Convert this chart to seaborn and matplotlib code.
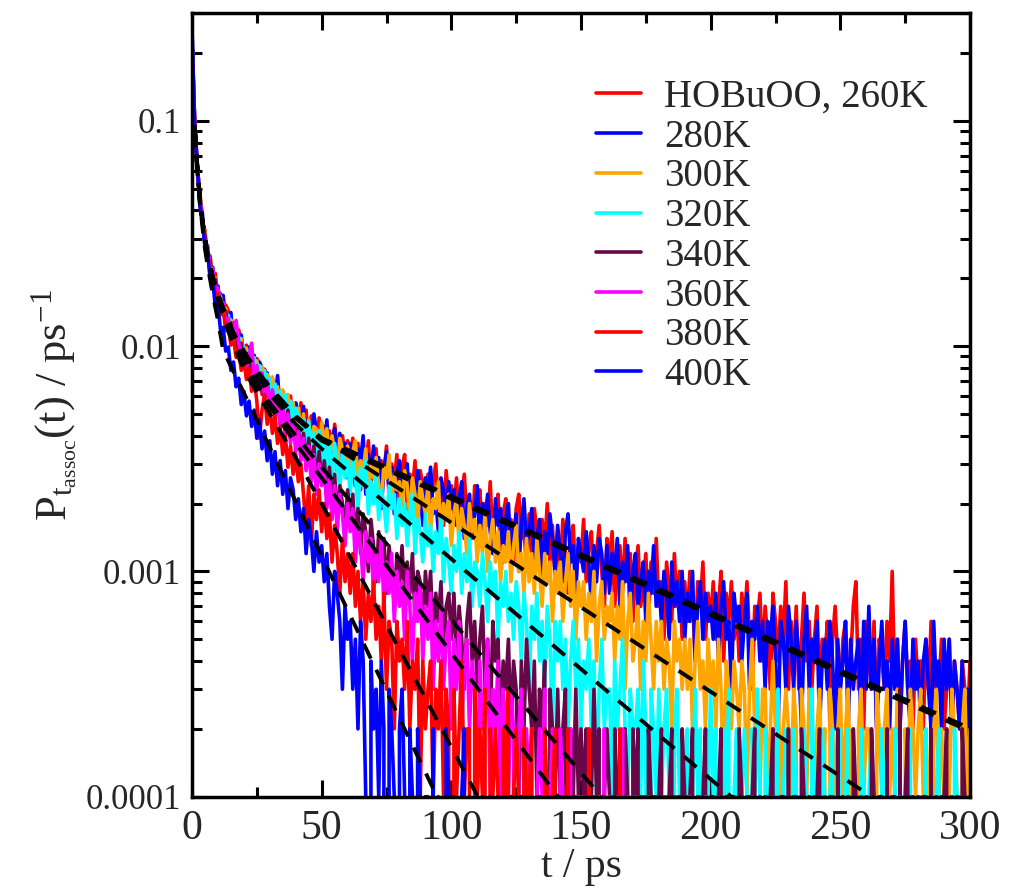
import matplotlib
matplotlib.use("Agg")
import matplotlib.pyplot as plt
from matplotlib.ticker import FixedLocator, FixedFormatter, MultipleLocator, NullFormatter
import seaborn as sns

sns.set_style("ticks")
plt.rcParams['font.family'] = ['Liberation Serif', 'DejaVu Serif']
plt.rcParams['mathtext.fontset'] = 'custom'
plt.rcParams['mathtext.rm'] = 'Liberation Serif'
plt.rcParams['mathtext.it'] = 'Liberation Serif:italic'
plt.rcParams['mathtext.bf'] = 'Liberation Serif:bold'

# ---------------- data ----------------
time_ps = list(range(301))          # t = 0 ... 300 ps
COUNT_UNIT = 1e-4                    # values below are in units of 1e-4 ps^-1

c260 = [2210,
 1030, 618, 489, 352, 327, 245, 251, 192, 210, 160,
 171, 138, 152, 144, 109, 127, 98, 118, 106, 84,
 101, 79, 95, 70, 88, 83, 61, 79, 74, 57,
 72, 55, 68, 49, 63, 58, 44, 60, 42, 55,
 39, 56, 41, 52, 35, 49, 46, 33, 48, 37,
 44, 31, 42, 29, 45, 36, 27, 40, 33, 38,
 26, 39, 30, 37, 23, 34, 29, 38, 24, 32,
 35, 22, 31, 27, 36, 21, 30, 25, 33, 20,
 29, 33, 19, 27, 23, 31, 18, 28, 24, 21,
 27, 17, 25, 30, 19, 22, 16, 28, 20, 24,
 18, 26, 15, 22, 27, 17, 20, 14, 24, 19,
 23, 14, 20, 16, 25, 13, 19, 22, 12, 18,
 21, 13, 17, 11, 19, 22, 14, 16, 10, 18,
 12, 19, 15, 10, 17, 13, 20, 11, 16, 9,
 15, 10, 17, 12, 8, 14, 16, 9, 13, 11,
 17, 9, 13, 15, 8, 12, 16, 10, 7, 14,
 11, 15, 7, 10, 13, 8, 14, 9, 12, 6,
 10, 13, 7, 9, 12, 6, 11, 8, 14, 7,
 9, 5, 11, 8, 6, 12, 7, 10, 5, 9,
 6, 10, 8, 4, 9, 7, 11, 5, 8, 6,
 9, 5, 7, 10, 4, 8, 6, 9, 5, 7,
 4, 8, 6, 9, 5, 3, 7, 6, 8, 4,
 7, 5, 3, 8, 6, 4, 7, 5, 9, 3,
 6, 4, 7, 3, 5, 8, 4, 6, 3, 5,
 7, 3, 5, 4, 6, 2, 5, 7, 4, 3,
 5, 6, 3, 4, 7, 9, 3, 5, 2, 6,
 4, 3, 6, 2, 5, 4, 3, 6, 4, 10,
 3, 5, 2, 4, 6, 3, 4, 2, 5, 3,
 4, 2, 5, 3, 6, 2, 4, 3, 5, 2,
 3, 5, 2, 4, 3, 2, 4, 3, 2, 4]

c280 = [2600,
 975, 663, 447, 389, 289, 279, 216, 224, 178, 185,
 149, 168, 131, 124, 141, 103, 121, 97, 112, 89,
 84, 99, 77, 91, 69, 85, 80, 64, 76, 60,
 69, 58, 74, 52, 61, 47, 59, 53, 41, 56,
 50, 38, 54, 40, 47, 34, 50, 42, 31, 45,
 34, 47, 30, 39, 43, 28, 41, 32, 37, 26,
 37, 29, 24, 35, 31, 40, 22, 33, 27, 36,
 24, 32, 19, 28, 34, 23, 29, 18, 27, 31,
 21, 26, 30, 17, 25, 20, 28, 23, 16, 26,
 22, 29, 18, 21, 15, 26, 23, 17, 25, 19,
 23, 16, 21, 25, 14, 19, 22, 15, 18, 24,
 13, 20, 17, 22, 15, 12, 21, 16, 19, 11,
 17, 20, 12, 15, 18, 10, 16, 21, 13, 15,
 19, 11, 14, 17, 9, 15, 12, 18, 14, 10,
 16, 12, 9, 15, 18, 11, 13, 8, 14, 12,
 10, 15, 11, 7, 13, 9, 14, 12, 8, 13,
 8, 12, 10, 14, 7, 11, 9, 13, 6, 10,
 12, 7, 9, 11, 6, 10, 8, 13, 7, 9,
 6, 10, 8, 5, 11, 7, 9, 6, 10, 5,
 8, 6, 10, 4, 7, 9, 5, 8, 6, 7,
 5, 8, 4, 7, 9, 5, 6, 3, 8, 6,
 7, 4, 6, 8, 3, 6, 5, 7, 4, 6,
 3, 6, 5, 7, 4, 2, 6, 5, 3, 7,
 5, 3, 6, 4, 2, 5, 7, 3, 5, 4,
 6, 2, 4, 5, 3, 6, 4, 2, 5, 3,
 4, 6, 2, 5, 3, 4, 5, 2, 6, 3,
 7, 3, 5, 2, 4, 6, 3, 4, 2, 5,
 3, 5, 2, 4, 6, 3, 2, 5, 3, 4,
 2, 4, 5, 3, 2, 6, 3, 4, 2, 5,
 3, 5, 2, 4, 3, 2, 4, 1, 3, 2]

c300 = [2400,
 1005, 630, 478, 356, 318, 251, 240, 199, 201, 164,
 166, 141, 147, 122, 131, 108, 118, 95, 108, 87,
 98, 80, 92, 74, 86, 70, 81, 63, 75, 59,
 73, 57, 66, 51, 64, 50, 61, 45, 56, 44,
 53, 41, 50, 38, 47, 36, 44, 43, 33, 46,
 37, 43, 31, 40, 34, 28, 39, 35, 30, 36,
 27, 34, 38, 25, 31, 28, 35, 23, 30, 26,
 32, 24, 21, 29, 26, 33, 20, 27, 23, 25,
 19, 28, 24, 17, 26, 22, 16, 25, 21, 18,
 24, 15, 21, 19, 25, 14, 20, 17, 22, 13,
 18, 21, 13, 19, 16, 12, 20, 15, 17, 11,
 16, 12, 18, 10, 14, 17, 11, 15, 9, 13,
 11, 15, 9, 13, 16, 10, 12, 8, 14, 9,
 12, 8, 14, 10, 7, 12, 9, 11, 6, 10,
 8, 11, 6, 9, 12, 7, 10, 5, 9, 7,
 9, 5, 8, 6, 10, 4, 7, 9, 5, 7,
 6, 8, 4, 7, 5, 9, 3, 6, 8, 4,
 5, 7, 3, 6, 4, 8, 5, 3, 6, 4,
 6, 3, 5, 4, 2, 6, 4, 5, 3, 5,
 3, 5, 2, 4, 6, 3, 4, 2, 5, 3,
 4, 2, 5, 3, 1, 4, 3, 2, 4, 3,
 2, 4, 3, 1, 3, 5, 2, 3, 1, 3,
 3, 1, 2, 4, 2, 3, 1, 2, 3, 2,
 1, 3, 2, 0, 3, 2, 1, 3, 2, 1,
 2, 3, 1, 2, 0, 3, 2, 1, 2, 3,
 1, 2, 3, 1, 2, 0, 2, 3, 1, 2,
 2, 1, 0, 3, 2, 1, 2, 3, 1, 2,
 1, 3, 2, 0, 2, 1, 3, 2, 1, 2,
 3, 1, 2, 1, 0, 2, 3, 1, 2, 1,
 2, 1, 3, 2, 1, 0, 2, 3, 1, 2]

c320 = [2350,
 990, 655, 452, 381, 291, 271, 222, 215, 182, 176,
 153, 155, 131, 137, 117, 120, 104, 110, 94, 99,
 85, 95, 76, 89, 71, 82, 66, 78, 61, 72,
 56, 68, 52, 63, 48, 61, 45, 57, 42, 53,
 49, 38, 47, 35, 46, 33, 41, 30, 42, 31,
 39, 28, 36, 25, 37, 30, 23, 34, 26, 31,
 22, 32, 26, 19, 29, 24, 31, 18, 25, 20,
 27, 17, 23, 20, 15, 24, 19, 22, 14, 21,
 16, 20, 13, 18, 22, 12, 17, 15, 11, 18,
 13, 16, 10, 15, 12, 17, 9, 14, 11, 8,
 13, 10, 15, 8, 12, 9, 14, 7, 11, 10,
 7, 12, 9, 6, 11, 8, 10, 5, 9, 7,
 10, 6, 8, 5, 9, 7, 4, 8, 6, 3,
 7, 5, 8, 4, 6, 3, 7, 5, 2, 6,
 4, 6, 3, 5, 2, 4, 6, 3, 5, 2,
 4, 3, 5, 2, 4, 1, 3, 5, 2, 3,
 3, 1, 4, 2, 3, 5, 2, 1, 3, 2,
 2, 3, 1, 4, 2, 0, 3, 2, 1, 3,
 1, 2, 3, 1, 0, 2, 3, 1, 2, 1,
 2, 0, 1, 3, 1, 2, 0, 2, 1, 3,
 1, 2, 0, 1, 2, 1, 3, 0, 1, 2,
 0, 1, 2, 1, 0, 2, 1, 3, 1, 0,
 2, 1, 0, 2, 1, 3, 0, 1, 2, 1,
 0, 2, 1, 1, 0, 2, 1, 0, 3, 1,
 1, 0, 2, 1, 0, 1, 2, 0, 1, 2,
 0, 1, 2, 0, 1, 1, 0, 2, 1, 0,
 1, 2, 0, 1, 0, 2, 1, 0, 1, 0,
 2, 0, 1, 1, 0, 1, 2, 0, 1, 0,
 1, 0, 2, 0, 1, 0, 1, 2, 0, 1,
 0, 1, 0, 2, 1, 0, 1, 0, 1, 0]

c340 = [2250,
 1030, 615, 471, 355, 310, 249, 241, 191, 198, 158,
 163, 137, 143, 121, 127, 106, 114, 95, 103, 84,
 93, 77, 86, 71, 80, 64, 75, 58, 69, 55,
 63, 49, 59, 45, 55, 41, 52, 39, 47, 37,
 43, 33, 41, 29, 39, 27, 36, 24, 34, 25,
 31, 22, 29, 19, 27, 17, 24, 20, 15, 23,
 17, 22, 14, 19, 12, 18, 15, 10, 17, 13,
 9, 15, 11, 14, 8, 13, 10, 7, 12, 9,
 13, 7, 11, 8, 12, 6, 10, 9, 5, 10,
 7, 10, 5, 8, 6, 9, 4, 7, 8, 5,
 8, 4, 7, 5, 3, 6, 8, 4, 6, 3,
 5, 7, 3, 5, 2, 6, 4, 5, 2, 4,
 3, 5, 2, 4, 3, 1, 4, 2, 5, 3,
 2, 4, 1, 3, 2, 4, 0, 3, 2, 1,
 3, 1, 2, 3, 0, 2, 1, 3, 1, 2,
 1, 2, 0, 1, 3, 1, 2, 0, 1, 2,
 1, 0, 2, 1, 1, 0, 2, 1, 0, 2,
 1, 2, 0, 1, 0, 2, 1, 1, 0, 1,
 2, 0, 1, 1, 2, 0, 1, 0, 2, 1,
 0, 1, 2, 0, 1, 0, 1, 2, 0, 1,
 1, 0, 1, 2, 0, 1, 0, 1, 1, 0,
 2, 1, 0, 1, 0, 1, 2, 0, 1, 0,
 1, 0, 1, 2, 0, 0, 1, 1, 0, 2,
 0, 1, 1, 0, 2, 1, 0, 1, 0, 1,
 1, 2, 0, 1, 0, 1, 1, 0, 2, 0,
 1, 0, 1, 0, 2, 1, 0, 1, 0, 1,
 0, 2, 1, 0, 1, 1, 0, 2, 0, 1,
 1, 0, 3, 0, 1, 2, 0, 1, 0, 1,
 0, 1, 1, 0, 2, 0, 1, 0, 1, 1,
 2, 0, 1, 0, 1, 0, 2, 1, 0, 1]

c360 = [2280,
 968, 662, 445, 378, 289, 274, 219, 221, 176, 181,
 146, 156, 127, 133, 111, 119, 130, 104, 88, 97,
 80, 91, 103, 70, 82, 66, 76, 60, 70, 54,
 64, 49, 59, 45, 54, 40, 50, 37, 46, 34,
 42, 31, 39, 28, 36, 25, 33, 22, 30, 24,
 28, 19, 26, 17, 24, 15, 22, 18, 13, 20,
 15, 19, 11, 16, 13, 9, 15, 11, 14, 8,
 12, 9, 14, 7, 11, 8, 12, 6, 10, 7,
 9, 5, 10, 7, 4, 8, 6, 9, 4, 7,
 5, 8, 3, 6, 4, 7, 3, 5, 6, 2,
 5, 3, 6, 2, 4, 5, 2, 4, 3, 1,
 4, 2, 3, 5, 1, 3, 2, 4, 1, 3,
 2, 1, 3, 2, 0, 2, 3, 1, 2, 1,
 2, 0, 1, 2, 1, 3, 0, 1, 2, 1,
 0, 2, 1, 0, 1, 2, 0, 1, 1, 0,
 1, 0, 2, 0, 1, 0, 1, 0, 2, 0,
 1, 0, 0, 1, 0, 2, 0, 1, 0, 0,
 1, 0, 1, 0, 0, 1, 0, 0, 1, 0,
 0, 0, 1, 0, 0, 0, 1, 0, 0, 0,
 0, 1, 0, 0, 0, 0, 0, 1, 0, 0,
 0, 0, 1, 0, 0, 0, 0, 0, 0, 0,
 0, 0, 0, 0, 1, 0, 0, 0, 0, 0,
 0, 1, 0, 0, 0, 0, 0, 0, 1, 0,
 0, 0, 0, 0, 0, 0, 0, 0, 0, 0,
 0, 0, 0, 1, 0, 0, 0, 0, 0, 0,
 0, 0, 0, 0, 0, 0, 0, 1, 0, 0,
 0, 0, 0, 0, 0, 0, 0, 0, 0, 0,
 0, 0, 1, 0, 0, 0, 0, 0, 0, 0,
 0, 0, 0, 0, 0, 0, 0, 0, 0, 0,
 0, 0, 0, 0, 0, 1, 0, 0, 0, 0]

c380 = [2150,
 945, 641, 430, 370, 277, 262, 207, 205, 168, 171,
 139, 147, 117, 126, 101, 109, 89, 96, 78, 86,
 71, 80, 63, 72, 57, 39, 52, 61, 45, 54,
 41, 49, 37, 44, 33, 40, 29, 36, 27, 33,
 25, 30, 22, 16, 24, 13, 22, 17, 23, 15,
 20, 14, 18, 11, 16, 12, 8, 14, 9, 12,
 8, 12, 7, 10, 6, 9, 5, 8, 6, 9,
 5, 7, 4, 8, 3, 6, 5, 2, 6, 4,
 5, 3, 6, 2, 4, 3, 5, 1, 4, 2,
 3, 4, 1, 3, 2, 4, 1, 3, 2, 0,
 3, 1, 2, 4, 1, 2, 2, 0, 3, 1,
 2, 1, 3, 0, 2, 1, 2, 1, 0, 2,
 1, 3, 0, 1, 2, 1, 0, 2, 1, 1,
 2, 0, 1, 1, 0, 2, 1, 0, 1, 2,
 0, 1, 1, 0, 2, 0, 1, 1, 0, 1,
 1, 0, 2, 0, 1, 0, 0, 1, 1, 0,
 0, 1, 0, 0, 2, 0, 1, 0, 0, 1,
 0, 0, 1, 0, 1, 0, 0, 0, 1, 0,
 0, 1, 0, 0, 0, 1, 0, 0, 0, 0,
 1, 0, 0, 0, 0, 1, 0, 0, 0, 0,
 0, 0, 1, 0, 0, 0, 0, 1, 0, 0,
 0, 0, 0, 0, 0, 1, 0, 0, 0, 0,
 0, 0, 0, 1, 0, 0, 0, 0, 0, 0,
 0, 1, 0, 0, 0, 0, 0, 0, 0, 1,
 0, 0, 0, 0, 0, 0, 1, 0, 0, 0,
 0, 0, 0, 0, 0, 0, 0, 0, 0, 0,
 0, 1, 0, 0, 0, 0, 0, 0, 0, 0,
 0, 0, 0, 0, 0, 0, 1, 0, 0, 0,
 0, 0, 0, 0, 0, 0, 0, 0, 0, 0,
 0, 0, 1, 0, 0, 0, 0, 0, 0, 0]

c400 = [2550,
 930, 640, 420, 366, 276, 262, 200, 194, 150, 152,
 118, 121, 95, 99, 78, 85, 66, 72, 55, 63,
 49, 57, 44, 52, 39, 47, 35, 42, 31, 38,
 27, 34, 24, 31, 22, 28, 19, 26, 23, 17,
 21, 15, 19, 12, 17, 14, 10, 15, 11, 13,
 9, 12, 7, 5, 10, 8, 6, 3, 7, 5,
 6, 3, 5, 2, 6, 4, 1, 0, 4, 2,
 3, 1, 4, 2, 0, 3, 2, 1, 0, 2,
 3, 1, 0, 2, 1, 0, 2, 1, 0, 1,
 1, 0, 2, 0, 1, 0, 0, 2, 1, 0,
 1, 0, 0, 1, 2, 0, 1, 0, 0, 1,
 0, 1, 0, 0, 1, 0, 0, 1, 0, 0,
 0, 0, 1, 0, 0, 0, 1, 0, 0, 0,
 0, 0, 0, 1, 0, 0, 0, 0, 0, 0,
 0, 0, 0, 0, 0, 0, 1, 0, 0, 0,
 0, 0, 0, 0, 0, 0, 0, 0, 0, 0,
 0, 0, 1, 0, 0, 0, 0, 0, 0, 0,
 0, 0, 0, 0, 0, 0, 0, 0, 0, 0,
 0, 0, 0, 0, 0, 0, 0, 1, 0, 0,
 0, 0, 0, 0, 0, 0, 0, 0, 0, 0,
 0, 0, 0, 0, 0, 0, 0, 0, 0, 0,
 0, 0, 0, 0, 1, 0, 0, 0, 0, 0,
 0, 0, 0, 0, 0, 0, 0, 0, 0, 0,
 0, 0, 0, 0, 0, 0, 0, 0, 0, 0,
 0, 0, 0, 0, 0, 0, 0, 0, 0, 0,
 0, 0, 0, 0, 0, 0, 0, 0, 0, 0,
 0, 0, 0, 0, 0, 0, 0, 0, 0, 0,
 0, 0, 0, 0, 0, 0, 0, 0, 0, 0,
 0, 0, 0, 0, 0, 0, 0, 0, 0, 0,
 0, 0, 0, 0, 0, 0, 0, 0, 0, 0]

series_labels = ["HOBuOO, 260K", "280K", "300K", "320K", "340K", "360K", "380K", "400K"]
series_colors = ["#ff0000", "#0000ff", "#ffa500", "#00ffff", "#670748", "#ff00ff", "#ff0000", "#0000ff"]
series_counts = [c260, c280, c300, c320, c340, c360, c380, c400]

# fitted curves (dashed)
fit_t = [1, 2, 3, 4, 5, 6, 8, 10, 12, 16, 20, 25, 30, 40, 50, 300]
fit260 = [0.095, 0.063, 0.046, 0.036, 0.030, 0.0255, 0.0203, 0.0170, 0.0148, 0.0115, 0.0095, 0.0078, 0.0066, 0.0049, 0.0039, 2.01e-4]
fit280 = [0.095, 0.063, 0.046, 0.036, 0.030, 0.0255, 0.0202, 0.0169, 0.0146, 0.0113, 0.0093, 0.0076, 0.0064, 0.0048, 0.0038, 1.95e-4]
fit300 = [0.095, 0.063, 0.046, 0.036, 0.030, 0.0255, 0.0202, 0.0169, 0.0147, 0.0114, 0.0094, 0.0077, 0.0064, 0.0048, 0.0039, 5.2e-5]
fit320 = [0.095, 0.063, 0.046, 0.036, 0.030, 0.0254, 0.0201, 0.0168, 0.0145, 0.0112, 0.0091, 0.0074, 0.0061, 0.0045, 0.0035, 1.26e-5]
fit340 = [0.095, 0.063, 0.046, 0.036, 0.030, 0.0253, 0.0200, 0.0166, 0.0142, 0.0108, 0.0087, 0.0069, 0.0056, 0.0040, 0.0029, 1.18e-6]
fit360 = [0.095, 0.063, 0.046, 0.036, 0.030, 0.0252, 0.0198, 0.0164, 0.0140, 0.0105, 0.0084, 0.0066, 0.0054, 0.0037, 0.0026, 3.4e-7]
fit380 = [0.094, 0.062, 0.045, 0.0355, 0.0295, 0.0248, 0.0194, 0.0160, 0.0135, 0.0100, 0.0079, 0.0062, 0.0050, 0.0032, 0.0020, 7.9e-9]
fit400 = [0.090, 0.060, 0.044, 0.034, 0.027, 0.0228, 0.0170, 0.0130, 0.0096, 0.0077, 0.0062, 0.0047, 0.00355, 0.00204, 0.00117, 1.17e-9]
fits = [fit260, fit280, fit300, fit320, fit340, fit360, fit380, fit400]

x_ticks = [0, 50, 100, 150, 200, 250, 300]
y_ticks = [1e-4, 1e-3, 1e-2, 1e-1]
y_ticklabels = ["0.0001", "0.001", "0.01", "0.1"]

for name, c in zip(series_labels, series_counts):
    if len(c) != len(time_ps):
        raise ValueError(f"{name}: {len(c)} values")

# ---------------- figure ----------------
W, H = 1015, 896
fig = plt.figure(figsize=(W / 100, H / 100), dpi=100)
ax = fig.add_axes([192 / W, 1 - 796.7 / H, 778 / W, 783.4 / H])

for lab, col, cnt in zip(series_labels, series_colors, series_counts):
    vals = [v * COUNT_UNIT for v in cnt]
    sns.lineplot(x=time_ps, y=vals, ax=ax, color=col, lw=2.6, label=lab,
                 estimator=None, errorbar=None, sort=False, legend=False, zorder=2)

for f in fits:
    sns.lineplot(x=fit_t, y=f, ax=ax, color="black", lw=2.8, ls=(0, (4.2, 3.2)),
                 estimator=None, errorbar=None, sort=False, legend=False, zorder=3)

ax.set_yscale("log")
ax.set_xlim(0, 300)
ax.set_ylim(1e-4, 0.3)

ax.xaxis.set_major_locator(FixedLocator(x_ticks))
ax.xaxis.set_major_formatter(FixedFormatter([str(v) for v in x_ticks]))
ax.xaxis.set_minor_locator(MultipleLocator(25))
ax.yaxis.set_major_locator(FixedLocator(y_ticks))
ax.yaxis.set_major_formatter(FixedFormatter(y_ticklabels))
minor_y = [m * d for d in (1e-4, 1e-3, 1e-2, 1e-1) for m in range(2, 10)]
ax.yaxis.set_minor_locator(FixedLocator(minor_y))
ax.yaxis.set_minor_formatter(NullFormatter())

ax.tick_params(which="both", direction="in", top=True, right=True, width=2.2, color="black")
ax.tick_params(which="major", length=12)
ax.tick_params(which="minor", length=7.5)
ax.tick_params(axis="x", which="major", labelsize=30, pad=9)
ax.tick_params(axis="y", which="major", labelsize=25, pad=8)
for sp in ax.spines.values():
    sp.set_linewidth(2.5)
    sp.set_color("black")

ax.set_xlabel("t / ps", fontsize=30, labelpad=0)
ax.set_ylabel(r"$\mathrm{P}_{\mathrm{t}_{\mathrm{assoc}}}\mathrm{(t)\ /\ ps}^{\mathrm{-1}}$", fontsize=32)
ax.yaxis.set_label_coords((79 - 192) / 778, 0.5)

leg = ax.legend(loc="upper left", bbox_to_anchor=((596 - 192) / 778, (796.7 - 79) / 783.4),
                frameon=False, fontsize=28, borderaxespad=0, borderpad=0,
                handlelength=1.15, handletextpad=0.6, labelspacing=0.07)
for line in leg.get_lines():
    line.set_linewidth(2.6)

fig.savefig("out.png", dpi=100)
